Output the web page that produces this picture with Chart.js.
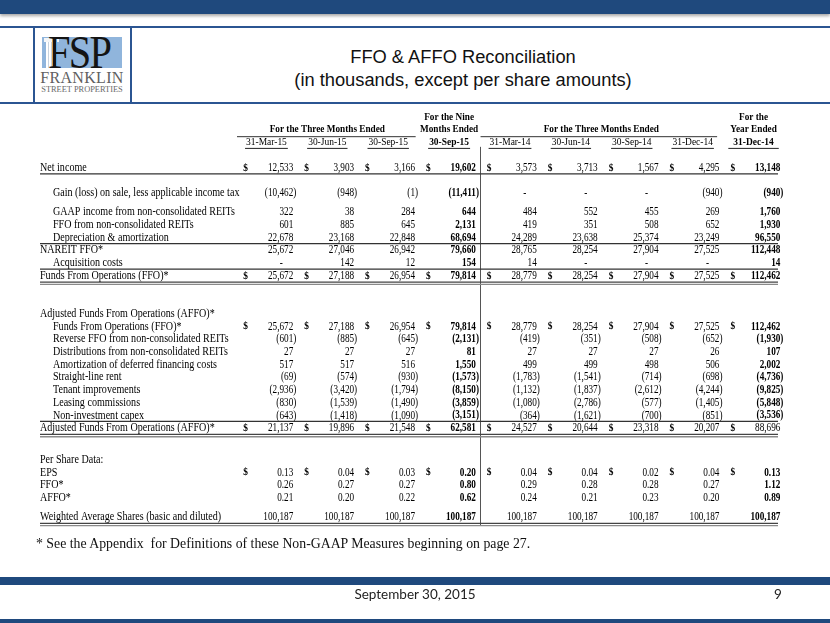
<!DOCTYPE html>
<html>
<head>
<meta charset="utf-8">
<script src="https://cdn.jsdelivr.net/npm/chart.js"></script>
<style>
  body { margin: 0; width: 830px; height: 623px; position: relative; overflow: hidden; background: #fff; }
  .abs { position: absolute; }
  .band { left: 0; width: 830px; background: #1f497d; }
  .rule { background: #2b5592; }
  #c { position: absolute; left: 0; top: 0; }
</style>
</head>
<body>
<!-- slide frame -->
<div class="abs band" style="top:0;height:14px;box-shadow:0 2px 3px rgba(0,0,0,0.35)"></div>
<div class="abs rule" style="left:0;top:26px;width:830px;height:2px"></div>
<div class="abs rule" style="left:33px;top:27px;width:2px;height:77px"></div>
<div class="abs rule" style="left:130px;top:27px;width:2px;height:77px"></div>
<div class="abs rule" style="left:0;top:102px;width:830px;height:2px"></div>

<!-- logo -->
<div class="abs" style="left:42px;top:37px;width:80px;height:31px;background:#90b5dc;overflow:hidden">
  <div class="abs" style="left:2px;top:1px;width:15px;height:4px;background:#f4f6f8"></div>
  <div class="abs" style="left:4px;top:5px;width:11px;height:26px;background:repeating-linear-gradient(90deg,#fff 0 2px,#c9d3de 2px 3px)"></div>
  <div class="abs" style="left:6px;top:-8px;width:90px;font:47px 'Liberation Serif';letter-spacing:-2px;color:#141414;line-height:47px;white-space:nowrap;transform:scaleX(0.86);transform-origin:0 0">FSP</div>
</div>
<div class="abs" style="left:40px;top:70px;width:84px;text-align:center;font:16px 'Liberation Serif';color:#5f5f5f;line-height:16px;letter-spacing:0.3px;white-space:nowrap">FRANKLIN</div>
<div class="abs" style="left:41px;top:85px;width:82px;text-align:center;font:8.4px 'Liberation Serif';color:#6a6a6a;line-height:9px;white-space:nowrap">STREET PROPERTIES</div>

<!-- title -->
<div class="abs" style="left:263px;top:45px;width:400px;text-align:center;font:18.3px 'Liberation Sans';line-height:23px;color:#111">FFO &amp; AFFO Reconciliation<br>(in thousands, except per share amounts)</div>

<canvas id="c" width="830" height="623"></canvas>

<!-- footnote and footer -->
<div class="abs" style="left:36px;top:536px;font:13.8px 'Liberation Serif';color:#111;white-space:nowrap">* See the Appendix&nbsp; for Definitions of these Non-GAAP Measures beginning on page 27.</div>
<div class="abs band" style="top:577px;height:8px"></div>
<div class="abs" style="left:315px;top:586px;width:200px;text-align:center;font:13.5px Lato;color:#222">September 30, 2015</div>
<div class="abs" style="left:774px;top:586px;font:13.5px Lato;color:#222">9</div>
<div class="abs band" style="top:619px;height:4px"></div>

<script>
// column headers
var columnDates = ['31-Mar-15', '30-Jun-15', '30-Sep-15', '30-Sep-15', '31-Mar-14', '30-Jun-14', '30-Sep-14', '31-Dec-14', '31-Dec-14'];

// series values (in thousands, per share in dollars)
var netIncome          = [12533, 3903, 3166, 19602, 3573, 3713, 1567, 4295, 13148];
var gainOnSale         = [-10462, -948, -1, -11411, 0, 0, 0, -940, -940];
var gaapIncomeReits    = [322, 38, 284, 644, 484, 552, 455, 269, 1760];
var ffoFromReits       = [601, 885, 645, 2131, 419, 351, 508, 652, 1930];
var depreciation       = [22678, 23168, 22848, 68694, 24289, 23638, 25374, 23249, 96550];
var nareitFfo          = [25672, 27046, 26942, 79660, 28765, 28254, 27904, 27525, 112448];
var acquisitionCosts   = [0, 142, 12, 154, 14, 0, 0, 0, 14];
var ffoTotal           = [25672, 27188, 26954, 79814, 28779, 28254, 27904, 27525, 112462];
var reverseFfo         = [-601, -885, -645, -2131, -419, -351, -508, -652, -1930];
var distributions      = [27, 27, 27, 81, 27, 27, 27, 26, 107];
var amortization       = [517, 517, 516, 1550, 499, 499, 498, 506, 2002];
var straightLineRent   = [-69, -574, -930, -1573, -1783, -1541, -714, -698, -4736];
var tenantImprovements = [-2936, -3420, -1794, -8150, -1132, -1837, -2612, -4244, -9825];
var leasingCommissions = [-830, -1539, -1490, -3859, -1080, -2786, -577, -1405, -5848];
var nonInvestmentCapex = [-643, -1418, -1090, -3151, -364, -1621, -700, -851, -3536];
var affoTotal          = [21137, 19896, 21548, 62581, 24527, 20644, 23318, 20207, 88696];
var eps                = [0.13, 0.04, 0.03, 0.20, 0.04, 0.04, 0.02, 0.04, 0.13];
var ffoPerShare        = [0.26, 0.27, 0.27, 0.80, 0.29, 0.28, 0.28, 0.27, 1.12];
var affoPerShare       = [0.21, 0.20, 0.22, 0.62, 0.24, 0.21, 0.23, 0.20, 0.89];
var weightedShares     = [100187, 100187, 100187, 100187, 100187, 100187, 100187, 100187, 100187];

var rowLabels = [
  'Net income',
  'Gain (loss) on sale, less applicable income tax',
  'GAAP income from non-consolidated REITs',
  'FFO from non-consolidated REITs',
  'Depreciation & amortization',
  'NAREIT FFO*',
  'Acquisition costs',
  'Funds From Operations (FFO)*',
  'Adjusted Funds From Operations (AFFO)*',
  'Funds From Operations (FFO)*',
  'Reverse FFO from non-consolidated REITs',
  'Distributions from non-consolidated REITs',
  'Amortization of deferred financing costs',
  'Straight-line rent',
  'Tenant improvements',
  'Leasing commissions',
  'Non-investment capex',
  'Adjusted Funds From Operations (AFFO)*',
  'Per Share Data:',
  'EPS',
  'FFO*',
  'AFFO*',
  'Weighted Average Shares (basic and diluted)'
];
var rowValues = [netIncome, gainOnSale, gaapIncomeReits, ffoFromReits, depreciation, nareitFfo,
  acquisitionCosts, ffoTotal, null, ffoTotal, reverseFfo, distributions, amortization,
  straightLineRent, tenantImprovements, leasingCommissions, nonInvestmentCapex, affoTotal,
  null, eps, ffoPerShare, affoPerShare, weightedShares];

// layout (half-row slots, indents, rules) - kept apart from the data
var rowSlot   = [8, 12, 15, 17, 19, 21, 23, 25, 31, 33, 35, 37, 39, 41, 43, 45, 47, 49, 54, 56, 58, 60, 63];
var rowIndent = [0, 1, 1, 1, 1, 0, 1, 0, 0, 1, 1, 1, 1, 1, 1, 1, 1, 0, 0, 0, 0, 0, 0];
var dollarRows = [0, 7, 9, 17, 19];
var decimalRows = [19, 20, 21];
var singleRules = [0, 4, 6, 16];
var doubleRules = [7, 17, 22];
var boldCols = [3, 8];
var plainCells = ['17:8'];

var SERIF = "'Liberation Serif', 'Times New Roman', serif";

function drawText(ctx, s, x, y, font, align, sx) {
  ctx.save();
  ctx.font = font;
  ctx.textAlign = align;
  ctx.textBaseline = 'middle';
  ctx.translate(x, y);
  ctx.scale(sx, 1);
  ctx.fillText(s, 0, 0);
  ctx.restore();
}
function textWidth(ctx, s, font, sx) {
  ctx.save();
  ctx.font = font;
  var w = ctx.measureText(s).width * sx;
  ctx.restore();
  return w;
}
function hline(ctx, x1, x2, y, w, color) {
  ctx.save();
  ctx.strokeStyle = color;
  ctx.lineWidth = w;
  ctx.beginPath();
  ctx.moveTo(x1, y);
  ctx.lineTo(x2, y);
  ctx.stroke();
  ctx.restore();
}

var tablePlugin = {
  id: 'tableText',
  afterDatasetsDraw: function(chart) {
    var ctx = chart.ctx;
    var xs = chart.scales.x, ys = chart.scales.y;
    var band = xs.getPixelForValue(1) - xs.getPixelForValue(0);
    var labelX = 40, indent = 13;
    var rightEdge = xs.getPixelForValue(8.5) - 6;
    ctx.fillStyle = '#000';

    // column headings
    var hb = "bold 10.5px " + SERIF;
    drawText(ctx, 'For the Nine', xs.getPixelForValue(3), ys.getPixelForValue(0), hb, 'center', 0.88);
    drawText(ctx, 'Months Ended', xs.getPixelForValue(3), ys.getPixelForValue(2), hb, 'center', 0.88);
    drawText(ctx, 'For the', xs.getPixelForValue(8), ys.getPixelForValue(0), hb, 'center', 0.88);
    drawText(ctx, 'Year Ended', xs.getPixelForValue(8), ys.getPixelForValue(2), hb, 'center', 0.88);
    drawText(ctx, 'For the Three Months Ended', xs.getPixelForValue(1), ys.getPixelForValue(2), hb, 'center', 0.88);
    drawText(ctx, 'For the Three Months Ended', xs.getPixelForValue(5.5), ys.getPixelForValue(2), hb, 'center', 0.88);
    var gy = ys.getPixelForValue(3.1);
    hline(ctx, xs.getPixelForValue(-0.5) + 1, xs.getPixelForValue(2.5) - 3, gy, 1, '#333');
    hline(ctx, xs.getPixelForValue(3.5) + 1, xs.getPixelForValue(7.5) - 6, gy, 1, '#333');
    columnDates.forEach(function(d, c) {
      var bold = boldCols.indexOf(c) >= 0;
      var f = (bold ? 'bold ' : '') + '11px ' + SERIF;
      var cx = xs.getPixelForValue(c), cy = ys.getPixelForValue(4);
      drawText(ctx, d, cx, cy, f, 'center', 0.86);
      var w = textWidth(ctx, d, f, 0.86) + (c === 8 ? 10 : 2);
      hline(ctx, cx - w / 2, cx + w / 2, cy + 6, 1, '#222');
    });

    // vertical separator between nine-month and 2014 columns
    ctx.save();
    ctx.strokeStyle = '#555';
    ctx.lineWidth = 1;
    ctx.beginPath();
    var vx = Math.round(xs.getPixelForValue(3.5)) + 0.5;
    ctx.moveTo(vx, ys.getPixelForValue(4.7));
    ctx.lineTo(vx, ys.getPixelForValue(64.3));
    ctx.stroke();
    ctx.restore();

    // row labels
    rowLabels.forEach(function(lab, r) {
      drawText(ctx, lab, labelX + rowIndent[r] * indent, ys.getPixelForValue(rowSlot[r]), '12px ' + SERIF, 'left', 0.84);
    });

    // cells, placed at each dataset point
    chart.data.datasets.forEach(function(ds, di) {
      var r = ds.row;
      var meta = chart.getDatasetMeta(di);
      meta.data.forEach(function(pt, c) {
        var v = rowValues[r][c];
        var bold = boldCols.indexOf(c) >= 0 && plainCells.indexOf(r + ':' + c) < 0;
        var f = (bold ? 'bold ' : '') + '11.8px ' + SERIF;
        var sx = 0.78;
        var R = pt.x + band * 0.44;
        if (dollarRows.indexOf(r) >= 0) {
          drawText(ctx, '$', pt.x - band * 0.38, pt.y, 'bold 11px ' + SERIF, 'left', 0.85);
        }
        var s;
        if (v === 0) {
          drawText(ctx, '-', R - 12, pt.y, f, 'center', sx);
          return;
        }
        if (decimalRows.indexOf(r) >= 0) s = Math.abs(v).toFixed(2);
        else s = Math.abs(v).toLocaleString('en-US');
        if (v < 0) {
          var pw = textWidth(ctx, ')', f, sx);
          drawText(ctx, '(' + s + ')', R + pw, pt.y, f, 'right', sx);
        } else {
          drawText(ctx, s, R, pt.y, f, 'right', sx);
        }
      });
    });

    // rules under rows
    singleRules.forEach(function(r) {
      hline(ctx, labelX, rightEdge, ys.getPixelForValue(rowSlot[r] + 0.95), 1.3, '#333');
    });
    doubleRules.forEach(function(r) {
      var y = ys.getPixelForValue(rowSlot[r] + 1.0);
      hline(ctx, labelX, rightEdge, y, 1.2, '#444');
      hline(ctx, labelX, rightEdge, y + 2.3, 1.4, '#8a8a8a');
    });
  }
};

var datasets = [];
rowValues.forEach(function(vals, r) {
  if (!vals) return;
  datasets.push({
    label: rowLabels[r],
    row: r,
    data: vals.map(function(v, c) { return { x: c, y: rowSlot[r] }; }),
    pointRadius: 0,
    pointHoverRadius: 0,
    showLine: false
  });
});

new Chart(document.getElementById('c').getContext('2d'), {
  type: 'scatter',
  data: { datasets: datasets },
  options: {
    responsive: false,
    animation: false,
    events: [],
    layout: { padding: { left: 236, right: 46, top: 110.65, bottom: 99.65 } },
    plugins: { legend: { display: false }, tooltip: { enabled: false } },
    scales: {
      x: { type: 'linear', min: -0.5, max: 8.5, display: false },
      y: { type: 'linear', reverse: true, min: -1, max: 64, display: false }
    }
  },
  plugins: [tablePlugin]
});
</script>
</body>
</html>
